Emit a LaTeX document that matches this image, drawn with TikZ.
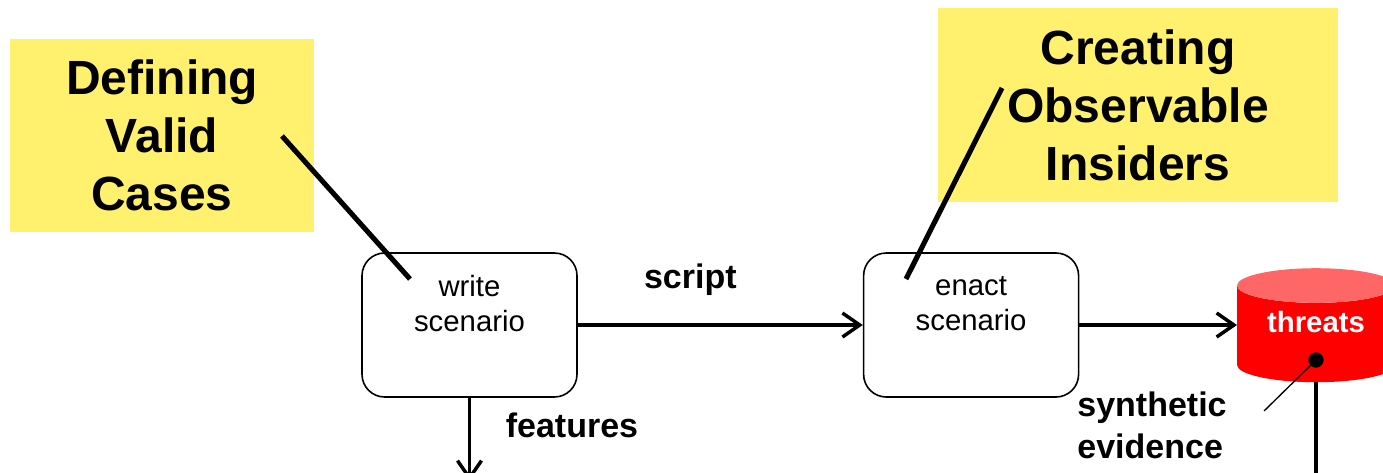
\documentclass[tikz,border=0pt]{standalone}
\usepackage{fontspec}
\setmainfont{Liberation Sans}
\usepackage{xcolor}
\usepackage{tikz}
\usetikzlibrary{positioning,shapes.geometric,arrows.meta}
\definecolor{notefill}{HTML}{FFF06E}
\definecolor{threatred}{HTML}{FF0000}
\definecolor{threattop}{HTML}{FF6666}

\begin{document}
\begin{tikzpicture}[x=0.75pt, y=-0.75pt, every node/.style={font=\fontsize{22}{26.25}\selectfont},
    process/.style={rectangle, rounded corners=17pt, draw=black, line width=1.2pt, minimum width=161.25pt, minimum height=108pt, align=center, inner sep=0pt},
    note/.style={rectangle, fill=notefill, align=center, inner sep=0pt, font=\fontsize{36}{43.5}\selectfont\bfseries},
    flowlabel/.style={align=left, inner sep=0pt, font=\fontsize{25.5}{31.5}\selectfont\bfseries},
    store/.style={cylinder, shape border rotate=90, aspect=0.354, minimum width=118.5pt, minimum height=85.5pt, inner sep=0pt, outer sep=0pt, cylinder uses custom fill, cylinder body fill=threatred, cylinder end fill=threattop, font=\fontsize{22}{26}\selectfont\bfseries},
    storelabel/.style={inner sep=0pt, text=white, font=\fontsize{22}{26}\selectfont\bfseries},
    flow/.style={-{Straight Barb[length=13pt, width=18pt, line width=2.6pt]}, line width=2.6pt},
    callout/.style={line width=3.8pt}]
    \useasboundingbox (0,0) rectangle (1383,472);
    \clip (0,0) rectangle (1383,472);
    \node[note, minimum width=228pt, minimum height=144.75pt] (valid) at (162,135.5) {Defining\\Valid\\Cases};
    \node[note, minimum width=300pt, minimum height=145.5pt] (insiders) at (1138,105) {Creating\\Observable\\Insiders};
    \node[process] (write) at (469.5,325) {write\\scenario\\[6pt]~};
    \node[process, right=213.75pt of write] (enact) {enact\\scenario\\[6pt]~};
    \node[store] (threats) at (1316,334) {\phantom{threats}};
    \node[storelabel] (threatslabel) at (1316,322) {threats};
    \node[circle, fill=black, minimum size=11.5pt, inner sep=0pt] (threatsdot) at (1316,360) {};
    \coordinate (validend) at (282,136);
    \coordinate (writeend) at (410,279);
    \coordinate (insidersend) at (1002,88);
    \coordinate (enactend) at (906,279);
    \coordinate (featuresend) at (469.5,481);
    \coordinate (evidenceend) at (1264,411);
    \coordinate (threatsend) at (1316,476);
    \draw[flow] (write) -- node[flowlabel, pos=0.395, above=20.5pt] (script) {script} (enact);
    \draw[flow] (enact) -- (enact -| threats.west);
    \draw[flow] (write) -- (featuresend);
    \draw[callout] (validend) -- (writeend);
    \draw[callout] (insidersend) -- (enactend);
    \draw[line width=1pt] (threatsdot) -- (evidenceend);
    \draw[line width=3.2pt] (threats.south) -- (threatsend);
    \node[flowlabel] (features) at (572,425) {features};
    \node[flowlabel] (evidence) at (1152,425) {synthetic\\evidence};
\end{tikzpicture}
\end{document}
